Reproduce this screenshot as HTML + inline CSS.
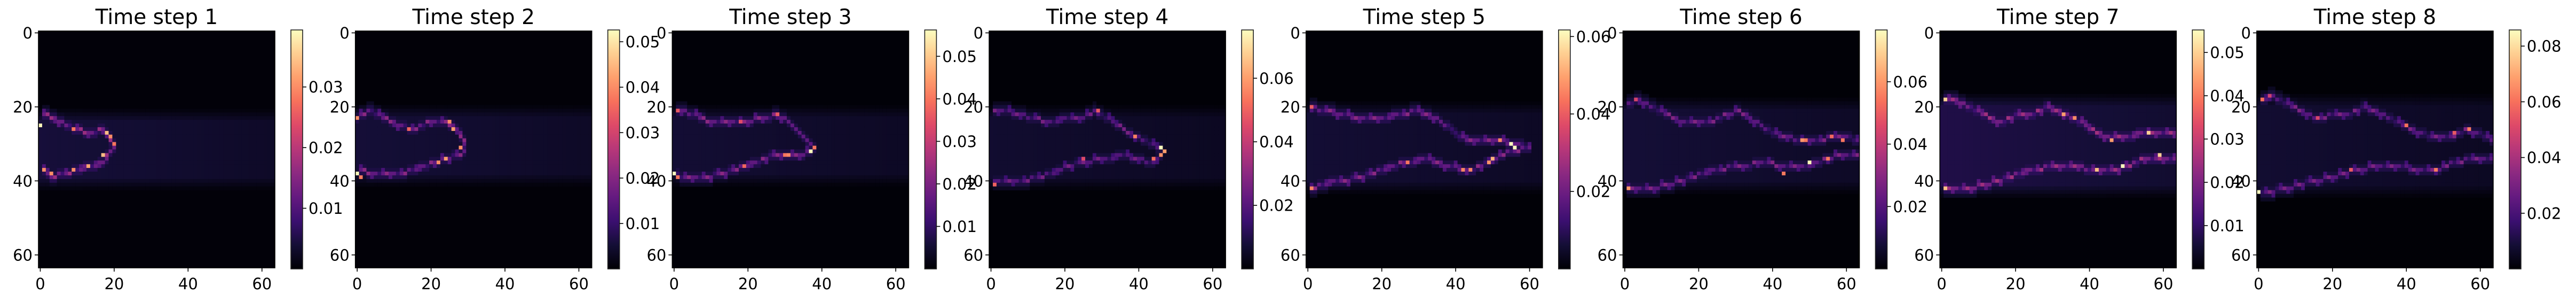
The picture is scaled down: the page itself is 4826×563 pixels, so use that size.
<!DOCTYPE html>
<html><head><meta charset="utf-8">
<style>
html,body{margin:0;padding:0;background:#fff;}
#fig{width:4826px;height:563px;position:relative;overflow:hidden;}
text{font-family:"DejaVu Sans","Liberation Sans",sans-serif;fill:#000;}
</style></head>
<body>
<div id="fig">
<svg id="svg" width="4826" height="563" viewBox="0 0 4826 563" xmlns="http://www.w3.org/2000/svg"></svg>
</div>
<script>
// ---------- data ----------
const titles = ["Time step 1","Time step 2","Time step 3","Time step 4","Time step 5","Time step 6","Time step 7","Time step 8"];
const vmaxes = [0.0394,0.0526,0.0562,0.0752,0.0617,0.0766,0.0552,0.0858];
const cbTicks = [
  [0.01,0.02,0.03],
  [0.01,0.02,0.03,0.04,0.05],
  [0.01,0.02,0.03,0.04,0.05],
  [0.02,0.04,0.06],
  [0.02,0.04,0.06],
  [0.02,0.04,0.06],
  [0.01,0.02,0.03,0.04,0.05],
  [0.02,0.04,0.06,0.08]
];
const axisTicks = [0,20,40,60];
const bandRows = [[21,42],[20,41],[20,41],[20,42],[19,43],[18,43],[17,44],[17,44]];
const bandLevel = [0.0035,0.0045,0.0045,0.0055,0.005,0.0065,0.006,0.0065];
const upperStrokes = [
  [[1,22],[6,24],[10,26],[14,27],[17,26],[18,27],[19,29],[20,31],[18,33],[17,35]],
  [[0,23],[3,21],[6,22],[9,24],[12,25],[15,26],[20,24],[24,24],[26,25],[28,27],[29,30],[29,32]],
  [[1,21],[6,22],[10,24],[14,24],[18,24],[24,23],[28,22],[31,24],[33,26],[35,28],[37,30],[38,31]],
  [[1,21],[4,21],[8,22],[12,23],[16,24],[20,23],[24,23],[28,21],[30,22],[33,24],[36,26],[38,27],[40,28],[42,29],[44,30],[46,31]],
  [[1,20],[5,21],[10,22],[14,23],[20,23],[25,22],[29,21],[33,22],[36,24],[39,26],[41,28],[44,29],[48,29],[52,29],[55,30],[58,30],[60,31]],
  [[1,19],[4,18],[8,20],[12,22],[16,24],[20,24],[24,24],[27,22],[31,21],[34,23],[37,25],[40,27],[44,28],[48,29],[52,29],[56,28],[60,28],[63,29]],
  [[1,18],[4,18],[8,20],[12,22],[16,24],[20,22],[24,22],[28,20],[32,21],[36,23],[39,25],[42,27],[45,28],[50,28],[54,27],[58,27],[63,27]],
  [[1,18],[4,17],[8,19],[12,21],[16,23],[20,22],[24,22],[28,20],[32,21],[36,23],[40,25],[44,27],[48,28],[52,28],[56,26],[60,27],[63,29]]
];
const lowerStrokes = [
  [[17,35],[13,36],[10,37],[6,38],[3,39],[1,37]],
  [[29,32],[27,33],[24,34],[21,35],[18,36],[15,37],[12,38],[8,38],[4,38],[1,37]],
  [[38,31],[35,33],[30,33],[26,33],[22,35],[19,36],[16,37],[12,38],[8,39],[3,39],[1,38]],
  [[46,33],[44,35],[40,34],[36,33],[30,34],[24,35],[20,36],[16,38],[12,39],[8,40],[4,40],[1,40]],
  [[60,31],[55,32],[50,34],[47,36],[43,37],[38,36],[32,34],[26,35],[20,37],[14,39],[8,40],[3,41],[1,42]],
  [[63,33],[58,33],[52,35],[48,36],[44,36],[38,35],[30,36],[24,37],[18,39],[12,41],[6,42],[1,42]],
  [[63,34],[58,34],[54,34],[50,36],[46,37],[42,37],[36,36],[30,36],[24,37],[18,39],[12,41],[6,42],[1,42]],
  [[63,34],[58,34],[52,35],[48,37],[44,37],[38,36],[32,36],[26,37],[20,39],[14,40],[8,42],[1,43]]
];
const strokeLevel = [0.013,0.016,0.017,0.02,0.019,0.022,0.019,0.024];
const hotspots = [
  [[0,25,0.039],[18,27,0.034],[19,28,0.030],[20,30,0.028],[17,33,0.034],[13,36,0.032],[9,37,0.030],[1,37,0.030],[3,38,0.030],[9,26,0.028]],
  [[0,38,0.052],[0,23,0.040],[25,24,0.040],[26,26,0.042],[24,34,0.042],[22,35,0.040],[1,39,0.038],[28,31,0.040],[14,26,0.035]],
  [[37,32,0.056],[0,38,0.056],[38,31,0.040],[31,33,0.042],[30,33,0.040],[19,36,0.038],[1,21,0.036],[1,39,0.040],[18,24,0.034],[28,22,0.036]],
  [[46,31,0.075],[47,32,0.060],[46,33,0.058],[39,28,0.055],[1,41,0.050],[44,34,0.052],[29,21,0.048],[25,34,0.045]],
  [[55,30,0.0617],[56,31,0.0617],[50,34,0.052],[49,35,0.048],[1,42,0.046],[42,37,0.046],[44,37,0.046],[27,35,0.044],[52,29,0.046],[1,20,0.040]],
  [[50,35,0.076],[1,42,0.060],[43,38,0.055],[48,29,0.060],[49,29,0.055],[55,34,0.055],[59,29,0.055],[56,28,0.052],[3,18,0.044]],
  [[49,36,0.055],[56,27,0.050],[42,37,0.048],[1,42,0.048],[1,18,0.050],[59,33,0.050],[46,29,0.044],[33,22,0.044],[36,23,0.042]],
  [[0,43,0.0858],[1,18,0.060],[48,37,0.062],[57,26,0.062],[40,25,0.060],[53,27,0.055],[25,37,0.055],[16,23,0.050],[3,17,0.048]]
];
// ---------- layout ----------
const L0 = 72, pitch = 593.7, topY = 58, size = 443, n = 64, cell = size / n;
const cbOff = 473, cbW = 22, cbTop = 56, cbBot = 503;
const baseVal = 0.0004;
const svgRoot = document.getElementById('svg');
const NS = "http://www.w3.org/2000/svg";
const magma = [[0,0,4],[20,14,54],[59,15,112],[100,26,128],[140,41,129],[183,55,121],[222,73,104],[247,112,92],[254,159,109],[254,206,145],[252,253,191]];
function cmap(t){
  t = Math.max(0, Math.min(1, t));
  const f = t * 10, i = Math.min(9, Math.floor(f)), r = f - i;
  const a = magma[i], b = magma[i+1];
  return 'rgb(' + Math.round(a[0]+(b[0]-a[0])*r) + ',' + Math.round(a[1]+(b[1]-a[1])*r) + ',' + Math.round(a[2]+(b[2]-a[2])*r) + ')';
}
function el(tag, attrs, parent){
  const e = document.createElementNS(NS, tag);
  for (const k in attrs) e.setAttribute(k, attrs[k]);
  parent.appendChild(e);
  return e;
}
function buildGrid(p){
  const g = [];
  for (let r = 0; r < n; r++){ g.push(new Array(n).fill(baseVal)); }
  const bt = bandRows[p][0], bb = bandRows[p][1];
  for (let r = bt; r <= bb; r++) for (let c = 0; c < n; c++){
    const edge = Math.min(r - bt, bb - r);
    const fade = Math.min(1, (edge + 1) / 4);
    g[r][c] = Math.max(baseVal, bandLevel[p] * fade * (1.2 - 0.4 * c / n));
  }
  function put(r, c, v){ if (r >= 0 && r < n && c >= 0 && c < n) g[r][c] = Math.max(g[r][c], v); }
  function stroke(pts, v){
    for (let k = 0; k < pts.length - 1; k++){
      const c0 = pts[k][0], r0 = pts[k][1], c1 = pts[k+1][0], r1 = pts[k+1][1];
      const steps = Math.max(Math.abs(c1-c0), Math.abs(r1-r0), 1);
      for (let s = 0; s <= steps; s++){
        const c = Math.round(c0 + (c1-c0)*s/steps), r = Math.round(r0 + (r1-r0)*s/steps);
        const m = (c * 7 + r * 3) % 5;
        put(r, c, v * (m === 0 ? 1.3 : m === 1 ? 0.6 : 0.95));
        put(r+1, c, v * (m === 2 ? 0.8 : 0.45));
        put(r-1, c, v * (m === 3 ? 0.75 : 0.4));
        put(r+2, c, v * 0.22);
        put(r-2, c, v * 0.2);
      }
    }
  }
  stroke(upperStrokes[p], strokeLevel[p]);
  stroke(lowerStrokes[p], strokeLevel[p]);
  hotspots[p].forEach(function(h){ if (h[1] < n && h[0] < n) g[h[1]][h[0]] = h[2]; });
  return g;
}
for (let p = 0; p < titles.length; p++){
  const L = L0 + pitch * p;
  const panel = el('g', {}, svgRoot);
  
  
  const t = el('text', {x: L + size/2, y: 45, 'font-size': 39, 'text-anchor': 'middle'}, panel);
  t.textContent = titles[p];
  
  
  const hm = el('g', {}, panel);
  
  
  const vmax = vmaxes[p];
  el('rect', {x: L, y: topY, width: size, height: size, fill: cmap(baseVal / vmax)}, hm);
  const grid = buildGrid(p);
  for (let r = 0; r < n; r++) for (let c = 0; c < n; c++){
    const v = grid[r][c];
    if (v <= baseVal) continue;
    const rc = el('rect', {x: (L + c*cell).toFixed(2), y: (topY + r*cell).toFixed(2), width: (cell+0.4).toFixed(2), height: (cell+0.4).toFixed(2), fill: cmap(v / vmax)}, hm);
    
    
  }
  el('rect', {x: L, y: topY, width: size, height: size, fill: 'none', stroke: '#000', 'stroke-width': 1.6}, panel);
  axisTicks.forEach(function(v){
    const xx = L + (v + 0.5) * cell;
    el('line', {x1: xx, x2: xx, y1: topY + size, y2: topY + size + 7, stroke: '#000', 'stroke-width': 1.6}, panel);
    const xl = el('text', {x: xx, y: 541, 'font-size': 29, 'text-anchor': 'middle'}, panel);
    xl.textContent = v;
    
    
    const yy = topY + (v + 0.5) * cell;
    el('line', {x1: L - 7, x2: L, y1: yy, y2: yy, stroke: '#000', 'stroke-width': 1.6}, panel);
    const yl = el('text', {x: L - 11, y: yy + 10.5, 'font-size': 29, 'text-anchor': 'end'}, panel);
    yl.textContent = v;
    
    
  });
  const cbx = L + cbOff;
  const cb = el('g', {}, panel);
  
  
  const gid = 'grad' + p;
  const defs = el('defs', {}, cb);
  const lg = el('linearGradient', {id: gid, x1: 0, y1: 1, x2: 0, y2: 0}, defs);
  for (let k = 0; k <= 10; k++) el('stop', {offset: k/10, 'stop-color': cmap(k/10)}, lg);
  el('rect', {x: cbx, y: cbTop, width: cbW, height: cbBot - cbTop, fill: 'url(#' + gid + ')', stroke: '#222', 'stroke-width': 1.6}, cb);
  cbTicks[p].forEach(function(v){
    const yy = cbBot - (v / vmax) * (cbBot - cbTop);
    el('line', {x1: cbx + cbW, x2: cbx + cbW + 7, y1: yy, y2: yy, stroke: '#000', 'stroke-width': 1.6}, cb);
    const tl = el('text', {x: cbx + cbW + 11, y: yy + 10.5, 'font-size': 29}, cb);
    tl.textContent = v.toFixed(2);
    
    
  });
}
</script>
</body></html>
